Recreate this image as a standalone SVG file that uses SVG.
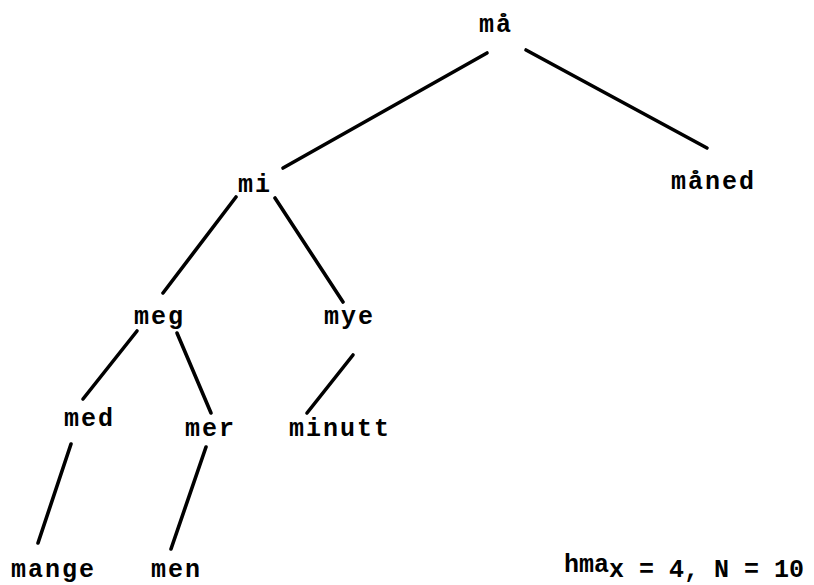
<svg xmlns="http://www.w3.org/2000/svg" width="814" height="585" viewBox="0 0 814 585">
  <style>
    .lbl { font-family: "Liberation Mono", "DejaVu Sans Mono", monospace; font-size: 25px; font-weight: bold; letter-spacing: 2px; fill: #000; }
    .note { font-family: "Liberation Mono", "DejaVu Sans Mono", monospace; font-size: 25px; font-weight: bold; fill: #000; }
    .edge { stroke: #000; stroke-width: 3.6; stroke-linecap: round; fill: none; }
  </style>
  <rect width="814" height="585" fill="#fff"/>

  <!-- tree edges -->
  <g id="connectors">
    <line class="edge" x1="487" y1="53" x2="283" y2="168"/>
    <line class="edge" x1="526" y1="50" x2="707" y2="148"/>
    <line class="edge" x1="236" y1="197" x2="163" y2="293"/>
    <line class="edge" x1="275" y1="198" x2="343" y2="302"/>
    <line class="edge" x1="137" y1="331" x2="83" y2="399"/>
    <line class="edge" x1="177" y1="333" x2="211" y2="413"/>
    <line class="edge" x1="353" y1="355" x2="307" y2="413"/>
    <line class="edge" x1="71" y1="444" x2="38" y2="543"/>
    <line class="edge" x1="206" y1="447" x2="171" y2="549"/>
  </g>

  <!-- tree nodes -->
  <g id="node-maa"><text class="lbl" x="479" y="32">må</text></g>
  <g id="node-mi"><text class="lbl" x="238" y="192">mi</text></g>
  <g id="node-maaned"><text class="lbl" x="671" y="189">måned</text></g>
  <g id="node-meg"><text class="lbl" x="134" y="324">meg</text></g>
  <g id="node-mye"><text class="lbl" x="324" y="324">mye</text></g>
  <g id="node-med"><text class="lbl" x="64" y="426">med</text></g>
  <g id="node-mer"><text class="lbl" x="185" y="436">mer</text></g>
  <g id="node-minutt"><text class="lbl" x="289" y="436">minutt</text></g>
  <g id="node-mange"><text class="lbl" x="11" y="577">mange</text></g>
  <g id="node-men"><text class="lbl" x="151" y="577">men</text></g>

  <!-- height / size note -->
  <g id="note">
    <text class="note" x="564" y="572">hma<tspan dy="5">x</tspan><tspan> = 4, N = 10</tspan></text>
  </g>
</svg>
